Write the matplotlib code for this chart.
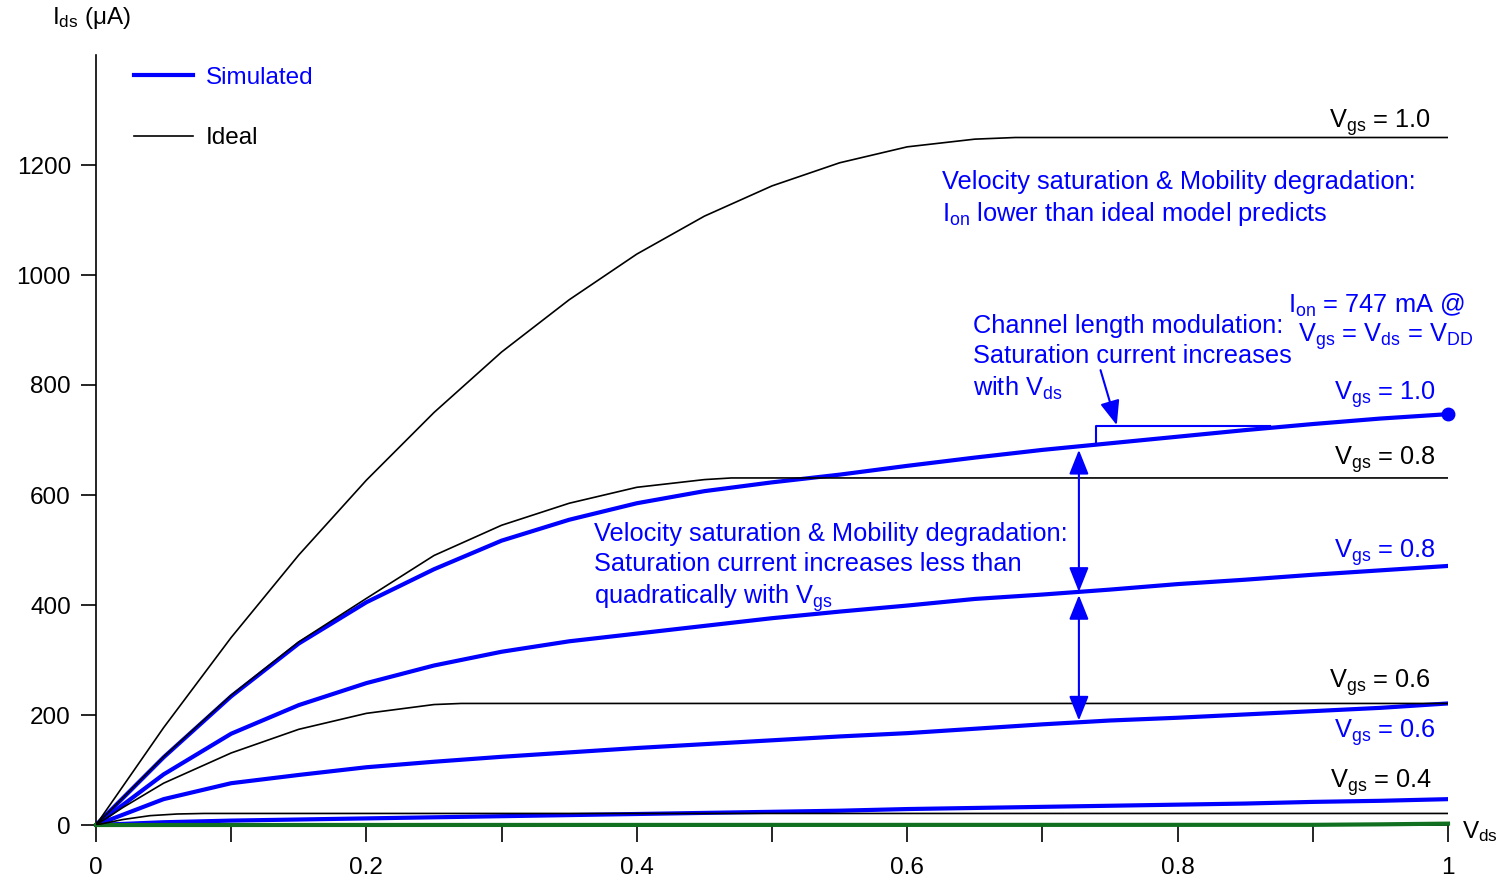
import matplotlib
matplotlib.use("Agg")
import matplotlib.pyplot as plt

# Vds sweep (V) for the simulated curves
vds = [0.0, 0.05, 0.1, 0.15, 0.2, 0.25, 0.3, 0.35, 0.4, 0.45, 0.5,
       0.55, 0.6, 0.65, 0.7, 0.75, 0.8, 0.85, 0.9, 0.95, 1.0]

# simulated Ids (uA)
sim_10 = [0, 123, 234, 330, 405, 465, 517, 555, 585, 607, 623,
          637, 653, 668, 682, 694, 706, 718, 729, 739, 747]
sim_08 = [0, 92, 166, 218, 258, 290, 315, 334, 348, 362, 376,
          388, 399, 411, 419, 428, 438, 446, 455, 463, 471]
sim_06 = [0, 47, 76, 91, 105, 115, 124, 132, 140, 147, 154,
          161, 167, 175, 183, 190, 195, 201, 207, 213, 221]
sim_04 = [0, 5, 8, 10, 12, 14, 16, 18, 20, 22, 24,
          26, 29, 31, 33, 35, 37, 39, 42, 44, 47]
vds_02 = [0.0, 0.9, 0.95, 1.0]
sim_02 = [0, 0.3, 1.2, 2.5]

# ideal (square law) curves
vds_i10 = [0, 0.05, 0.1, 0.15, 0.2, 0.25, 0.3, 0.35, 0.4, 0.45, 0.5, 0.55, 0.6, 0.65, 0.68, 1.0]
ideal_10 = [0, 177, 341, 491, 627, 750, 860, 955, 1038, 1107, 1162, 1204, 1233, 1247, 1250, 1250]
vds_i08 = [0, 0.05, 0.1, 0.15, 0.2, 0.25, 0.3, 0.35, 0.4, 0.45, 0.47, 1.0]
ideal_08 = [0, 124, 236, 333, 412, 490, 545, 585, 614, 628, 631, 631]
vds_i06 = [0, 0.02, 0.05, 0.1, 0.15, 0.2, 0.25, 0.27, 1.0]
ideal_06 = [0, 32, 76, 131, 174, 203, 219, 221, 221]
vds_i04 = [0, 0.02, 0.04, 0.06, 0.08, 1.0]
ideal_04 = [0, 10, 17, 20, 21, 21]

yticks = [0, 200, 400, 600, 800, 1000, 1200]
xticks = [0, 0.2, 0.4, 0.6, 0.8, 1]
xticks_minor = [0.1, 0.3, 0.5, 0.7, 0.9]

# annotation anchors
ion_point = (1.0, 747)
arrow_v = 0.727
arrow_up = (424, 682)
arrow_dn = (418, 190)
bracket_v = [0.740, 0.740, 0.868]
bracket_i = [691, 725, 725]

BLUE = "#0000ff"
plt.rcParams["font.family"] = ["Liberation Sans", "DejaVu Sans"]
plt.rcParams["mathtext.default"] = "regular"

fig = plt.figure(figsize=(15.05, 8.76), dpi=100)
ax = fig.add_axes([96 / 1505, 51 / 876, 1352 / 1505, 770 / 876])

ax.plot(vds, sim_10, color=BLUE, lw=3.0, label="Simulated", zorder=2)
ax.plot(vds, sim_08, color=BLUE, lw=3.0, zorder=2)
ax.plot(vds, sim_06, color=BLUE, lw=3.0, zorder=2)
ax.plot(vds, sim_04, color=BLUE, lw=3.0, zorder=2)
ax.plot(vds_02, sim_02, color="#107020", lw=3.0, zorder=3, clip_on=False)

ax.plot(vds_i10, ideal_10, color="black", lw=1.2, label="Ideal", zorder=3)
ax.plot(vds_i08, ideal_08, color="black", lw=1.2, zorder=3)
ax.plot(vds_i06, ideal_06, color="black", lw=1.2, zorder=3)
ax.plot(vds_i04, ideal_04, color="black", lw=1.2, zorder=3)

ax.plot(*ion_point, "o", color=BLUE, ms=9, zorder=4, clip_on=False)

ax.set_xlim(0, 1)
ax.set_ylim(0, 1400)
for s in ["top", "right"]:
    ax.spines[s].set_visible(False)
ax.spines["left"].set_linewidth(1.2)
ax.spines["bottom"].set_linewidth(1.2)

ax.set_yticks(yticks)
ax.set_xticks(xticks)
ax.set_xticklabels(["0", "0.2", "0.4", "0.6", "0.8", "1"])
ax.set_xticks(xticks_minor, minor=True)
ax.tick_params(axis="both", which="both", direction="out", width=1.2, labelsize=17.5)
ax.tick_params(axis="x", which="both", length=12, pad=11)
ax.tick_params(axis="y", length=11, pad=7)

leg = ax.legend(loc="upper left", bbox_to_anchor=(0.028, 0.985), frameon=False,
                fontsize=17.5, handlelength=2.45, handletextpad=0.5,
                labelspacing=1.6, borderpad=0, borderaxespad=0,
                labelcolor="linecolor")

fig.text(52 / 1505, 1 - 18 / 876, r"I$_{ds}$ (μA)", fontsize=17.5, va="center", ha="left")
ax.text(1.01, -0.008, r"V$_{ds}$", transform=ax.transAxes, fontsize=17.5, va="center", ha="left")

fs = 18.3
# curve labels
ax.text(0.987, 1267, r"V$_{gs}$ = 1.0", fontsize=fs, ha="right", va="baseline")
ax.text(0.991, 655, r"V$_{gs}$ = 0.8", fontsize=fs, ha="right", va="baseline")
ax.text(0.987, 249, r"V$_{gs}$ = 0.6", fontsize=fs, ha="right", va="baseline")
ax.text(0.988, 67, r"V$_{gs}$ = 0.4", fontsize=fs, ha="right", va="baseline")
ax.text(0.991, 773, r"V$_{gs}$ = 1.0", fontsize=fs, ha="right", va="baseline", color=BLUE)
ax.text(0.991, 485, r"V$_{gs}$ = 0.8", fontsize=fs, ha="right", va="baseline", color=BLUE)
ax.text(0.991, 158, r"V$_{gs}$ = 0.6", fontsize=fs, ha="right", va="baseline", color=BLUE)

# explanation texts
ax.text(0.626, 1190, "Velocity saturation & Mobility degradation:\n"
        r"I$_{on}$ lower than ideal model predicts",
        fontsize=fs, color=BLUE, ha="left", va="top", linespacing=1.25)
ax.text(0.649, 930, "Channel length modulation:\nSaturation current increases\n"
        r"with V$_{ds}$", fontsize=fs, color=BLUE, ha="left", va="top", linespacing=1.32)
ax.text(0.947, 970, "I$_{on}$ = 747 mA @", fontsize=fs, color=BLUE, ha="center", va="top")
ax.text(0.954, 915, r"V$_{gs}$ = V$_{ds}$ = V$_{DD}$", fontsize=fs, color=BLUE,
        ha="center", va="top")
ax.text(0.368, 551, "Velocity saturation & Mobility degradation:\n"
        "Saturation current increases less than\n" r"quadratically with V$_{gs}$",
        fontsize=fs, color=BLUE, ha="left", va="top", linespacing=1.3)

# arrows
head = dict(arrowstyle="-|>,head_length=1.5,head_width=0.6", color=BLUE, lw=1.5,
            shrinkA=0, shrinkB=0)
dhead = dict(arrowstyle="<|-|>,head_length=1.5,head_width=0.6", color=BLUE, lw=1.5,
             shrinkA=0, shrinkB=0)
ax.annotate("", xy=(arrow_v, arrow_up[1]), xytext=(arrow_v, arrow_up[0]), arrowprops=dhead)
ax.annotate("", xy=(arrow_v, arrow_dn[1]), xytext=(arrow_v, arrow_dn[0]), arrowprops=dhead)
ax.plot(bracket_v, bracket_i, color=BLUE, lw=1.5)
ax.annotate("", xy=(0.755, 727), xytext=(0.743, 827), arrowprops=head)
ax.annotate("", xy=(1.003, 776), xytext=(0.993, 855), arrowprops=head)

fig.savefig("out.png", dpi=100)
